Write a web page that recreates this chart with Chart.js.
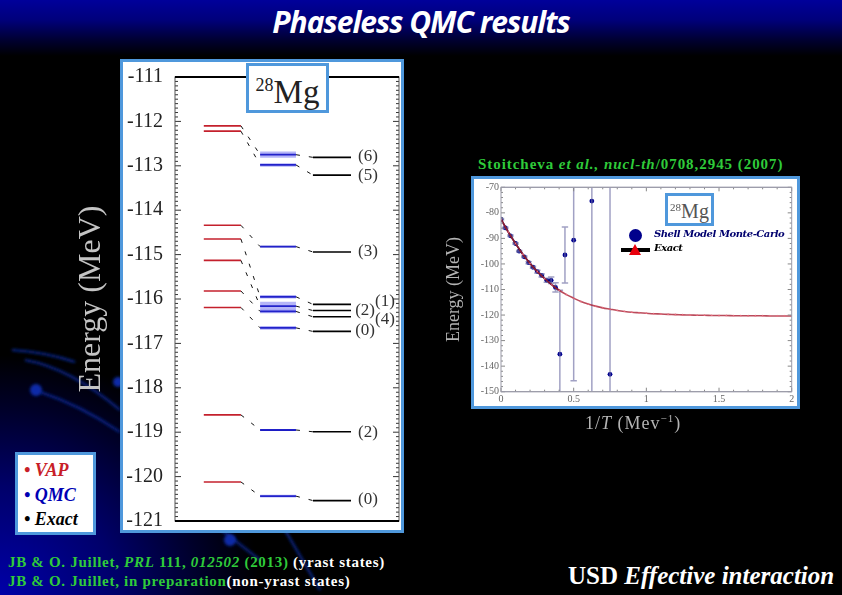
<!DOCTYPE html>
<html>
<head>
<meta charset="utf-8">
<script src="https://cdn.jsdelivr.net/npm/chart.js@4/dist/chart.umd.min.js"></script>
<style>
html, body { margin: 0; padding: 0; }
body {
    width: 842px; height: 595px; overflow: hidden; position: relative; background: #000;
}
.bg { position: absolute; left: 0; top: 0; width: 842px; height: 595px; }
.bg-head { position: absolute; left: 0; top: 0; width: 842px; height: 56px;
    background: linear-gradient(to bottom, #00009a 0%, #00007c 35%, #000030 72%, #000 100%); }
.bg-corner { position: absolute; left: 0; top: 300px; width: 300px; height: 295px;
    background: radial-gradient(ellipse 260px 240px at 0 100%, #0000a8 0%, #00006a 45%, #000028 78%, #000 100%); }
.panel { position: absolute; box-sizing: border-box; background: #fff; border: 3px solid #4f98dc; }
canvas { position: absolute; }
.txt { position: absolute; white-space: nowrap; }
.title { left: 0; top: 1px; width: 842px; text-align: center; color: #fff; font: italic 700 30px "Open Sans"; letter-spacing: -1px; }
.green { color: #2fcb3a; font: 700 15px "Liberation Serif"; letter-spacing: .7px; }
.white { color: #fff; }
.iso { font-family: "Liberation Serif"; color: #222; text-align: center; }
.iso sup { vertical-align: baseline; position: relative; }
</style>
</head>
<body>
<div class="bg-head"></div>
<div class="bg-corner"></div>
<svg class="bg" viewBox="0 0 842 595">
    <defs><filter id="soft"><feGaussianBlur stdDeviation="1.6"/></filter></defs>
    <g filter="url(#soft)" fill="none" stroke="#0a2a9c" stroke-width="2">
        <path d="M12 350 Q45 352 75 362"/>
        <path d="M25 360 Q70 368 120 410"/>
        <path d="M40 392 Q80 405 120 432"/>
        <path d="M215 525 L260 560"/>
        <path d="M285 530 L320 590"/>
    </g>
    <g filter="url(#soft)" fill="#0c2ca8">
        <circle cx="36" cy="390" r="6"/>
        <circle cx="118" cy="382" r="5"/>
        <circle cx="230" cy="540" r="6"/>
    </g>
</svg>

<div class="txt title">Phaseless QMC results</div>

<div class="panel" style="left:120px;top:59px;width:284px;height:474px"></div>
<canvas id="levels" width="332" height="492" style="left:70px;top:53px"></canvas>
<div class="panel iso" style="left:246px;top:63px;width:83px;height:50px;font-size:33px;line-height:52px">
    <sup style="font-size:18px;top:-12px">28</sup>Mg
</div>

<div class="panel" style="left:15px;top:452px;width:81px;height:83px"></div>
<div class="txt" style="left:24px;top:458px;font:italic 700 18px/24.5px 'Liberation Serif'">
    <span style="color:#c81e28">• VAP</span><br>
    <span style="color:#0000b4">• QMC</span><br>
    <span style="color:#000">• Exact</span>
</div>

<div class="txt green" style="left:478px;top:156px;letter-spacing:.95px">Stoitcheva <i>et al., nucl-th</i>/0708,2945 (2007)</div>
<div class="panel" style="left:471px;top:176px;width:329px;height:233px"></div>
<canvas id="smmc" width="358" height="260" style="left:440px;top:179px"></canvas>
<div class="panel iso" style="left:665px;top:193px;width:49px;height:33px;font-size:20px;line-height:31px;color:#555">
    <sup style="font-size:11px;top:-7px">28</sup>Mg
</div>
<div style="position:absolute;left:629px;top:229px;width:13px;height:13px;border-radius:50%;background:#00008c"></div>
<div style="position:absolute;left:621px;top:248px;width:29px;height:4px;background:#000"></div>
<div style="position:absolute;left:629px;top:244px;width:0;height:0;border-left:6px solid transparent;border-right:6px solid transparent;border-bottom:11px solid #e8000c"></div>
<div class="txt" style="left:654px;top:228px;font:italic 700 10px 'DejaVu Serif';letter-spacing:-.45px;color:#00006e">Shell Model Monte-Carlo</div>
<div class="txt" style="left:654px;top:242px;font:italic 700 10px 'DejaVu Serif';letter-spacing:-.45px;color:#000">Exact</div>
<div class="txt" style="left:585px;top:413px;font:18px 'Liberation Serif';letter-spacing:1px;color:#b4b4b4">1/<i>T</i> (Mev<sup style="font-size:11px;line-height:0">−1</sup>)</div>

<div class="txt green" style="left:8px;top:554px">JB &amp; O. Juillet, <i>PRL</i> 111, <i>012502</i> (2013) <span class="white">(yrast states)</span></div>
<div class="txt green" style="left:8px;top:573px">JB &amp; O. Juillet, in preparation<span class="white">(non-yrast states)</span></div>
<div class="txt white" style="left:568px;top:562px;font:700 25px 'Liberation Serif'">USD <i>Effective interaction</i></div>

<script>
// niveaux d'energie, 28Mg (MeV)
var vapLevels = [-112.10, -112.22, -114.34, -114.65, -115.13, -115.82, -116.19, -118.61, -120.12];
var qmcLevels = [-112.75, -112.98, -114.82, -115.95, -116.16, -116.28, -116.65, -118.95, -120.44];
var qmcErrors = [0.07, 0.04, 0.02, 0.04, 0.10, 0.04, 0.04, 0.02, 0.03];
var exactLevels = [-112.81, -113.21, -114.94, -116.12, -116.26, -116.40, -116.73, -118.99, -120.54];
var vapSpan = [0.9, 2.06];
var qmcSpan = [2.66, 3.78];
var exactSpan = [4.31, 5.5];
var tagTexts = ['(6)', '(5)', '(3)', '(1)', '(2)', '(4)', '(0)', '(2)', '(0)'];
var tagX = [6.03, 6.03, 6.03, 6.56, 5.94, 6.56, 5.94, 6.03, 6.03];
var tagE = [-112.79, -113.21, -114.94, -116.06, -116.26, -116.46, -116.71, -119.0, -120.52];

// SMMC, E(1/T)
var smmcX = [0, 0.03, 0.065, 0.1, 0.125, 0.16, 0.19, 0.22, 0.25, 0.28, 0.315, 0.345, 0.375, 0.405, 0.44, 0.5, 0.625, 0.75];
var smmcE = [-82.5, -85.9, -89, -92, -95, -97.2, -99.5, -101.3, -103, -104.5, -106.4, -106.4, -109.2, -135.3, -96.5, -90.7, -75.4, -143.2];
var smmcErr = [0.3, 0.3, 0.3, 0.3, 0.3, 0.3, 0.4, 0.4, 0.5, 0.6, 0.8, 1.3, 1.8, 25, 11, 55, 200, 100];
var exactX = [0, 0.05, 0.1, 0.15, 0.2, 0.25, 0.3, 0.35, 0.4, 0.45, 0.5, 0.55, 0.6, 0.65, 0.7, 0.75, 0.8, 0.85, 0.9, 0.95, 1, 1.05, 1.1, 1.15, 1.2, 1.25, 1.3, 1.35, 1.4, 1.45, 1.5, 1.55, 1.6, 1.65, 1.7, 1.75, 1.8, 1.85, 1.9, 1.95, 2];
var exactE = [-82.5, -87.5, -92, -96.2, -99.8, -103, -105.7, -108.2, -110.3, -112, -113.4, -114.7, -115.7, -116.5, -117.2, -117.7, -118.2, -118.6, -118.9, -119.1, -119.3, -119.5, -119.6, -119.75, -119.85, -119.95, -120, -120.05, -120.1, -120.15, -120.2, -120.2, -120.25, -120.25, -120.3, -120.3, -120.3, -120.35, -120.35, -120.35, -120.4];

/**
 * Cadre et graduations vers l'interieur
 */
var framePlugin = {
    id: 'frame',
    afterDatasetsDraw: function(chart, args, opts) {
        var ctx = chart.ctx, a = chart.chartArea;
        ctx.save();
        ctx.lineWidth = 1;
        ctx.strokeStyle = opts.tickColor;
        chart.scales.y.ticks.forEach(function(t) {
            var y = chart.scales.y.getPixelForValue(t.value);
            var len = Math.abs(t.value / opts.yMajor - Math.round(t.value / opts.yMajor)) < 1e-6 ? opts.major : opts.minor;
            ctx.beginPath();
            ctx.moveTo(a.left, y); ctx.lineTo(a.left + len, y);
            ctx.moveTo(a.right, y); ctx.lineTo(a.right - len, y);
            ctx.stroke();
        });
        if (opts.xMajor) {
            chart.scales.x.ticks.forEach(function(t) {
                var x = chart.scales.x.getPixelForValue(t.value);
                var len = Math.abs(t.value / opts.xMajor - Math.round(t.value / opts.xMajor)) < 1e-6 ? opts.major : opts.minor;
                ctx.beginPath();
                ctx.moveTo(x, a.bottom); ctx.lineTo(x, a.bottom - len);
                ctx.moveTo(x, a.top); ctx.lineTo(x, a.top + len);
                ctx.stroke();
            });
        }
        ctx.strokeStyle = opts.sideColor;
        ctx.strokeRect(a.left, a.top, a.right - a.left, a.bottom - a.top);
        ctx.strokeStyle = opts.edgeColor;
        ctx.lineWidth = opts.edgeWidth;
        ctx.beginPath();
        ctx.moveTo(a.left, a.top); ctx.lineTo(a.right, a.top);
        ctx.moveTo(a.left, a.bottom); ctx.lineTo(a.right, a.bottom);
        ctx.stroke();
        ctx.restore();
    }
};

// etiquettes (J) a droite des niveaux exacts
var tagPlugin = {
    id: 'tags',
    afterDatasetsDraw: function(chart) {
        var ctx = chart.ctx;
        ctx.save();
        ctx.font = '17px "Liberation Serif"';
        ctx.fillStyle = '#333';
        ctx.textAlign = 'center';
        ctx.textBaseline = 'middle';
        tagTexts.forEach(function(t, i) {
            ctx.fillText(t, chart.scales.x.getPixelForValue(tagX[i]), chart.scales.y.getPixelForValue(tagE[i]));
        });
        ctx.restore();
    }
};

function segment(span, e, color, width) {
    return {
        data: [{x: span[0], y: e}, {x: span[1], y: e}],
        borderColor: color,
        borderWidth: width,
        pointRadius: 0
    };
}

function connector(from, to, e0, e1) {
    return {
        data: [{x: from, y: e0}, {x: to, y: e1}],
        borderColor: '#111',
        borderWidth: 1,
        borderDash: [4, 9],
        pointRadius: 0
    };
}

function levelDatasets() {
    var sets = [];
    qmcLevels.forEach(function(e, i) {
        sets.push({
            data: [{x: qmcSpan[0], y: e + qmcErrors[i]}, {x: qmcSpan[1], y: e + qmcErrors[i]}],
            borderWidth: 0,
            pointRadius: 0,
            fill: {value: e - qmcErrors[i]},
            backgroundColor: 'rgba(70, 70, 235, 0.4)'
        });
    });
    vapLevels.forEach(function(e, i) {
        sets.push(connector(vapSpan[1], qmcSpan[0], e, qmcLevels[i]));
        sets.push(connector(qmcSpan[1], exactSpan[0], qmcLevels[i], exactLevels[i]));
        sets.push(segment(vapSpan, e, '#c4202c', 1.6));
        sets.push(segment(qmcSpan, qmcLevels[i], '#0a0ab4', 1.8));
        sets.push(segment(exactSpan, exactLevels[i], '#000', 1.6));
    });
    return sets;
}

function errorBars() {
    var pts = [], cap = 0.022;
    smmcX.forEach(function(x, i) {
        var hi = smmcE[i] + smmcErr[i], lo = smmcE[i] - smmcErr[i];
        pts.push({x: x - cap, y: hi}, {x: x + cap, y: hi}, {x: x, y: null});
        pts.push({x: x, y: hi}, {x: x, y: lo}, {x: x, y: null});
        pts.push({x: x - cap, y: lo}, {x: x + cap, y: lo}, {x: x, y: null});
    });
    return pts;
}

function pairs(xs, ys) {
    return xs.map(function(x, i) { return {x: x, y: ys[i]}; });
}

Chart.defaults.animation = false;

new Chart(document.getElementById('levels'), {
    type: 'line',
    data: {datasets: levelDatasets()},
    plugins: [framePlugin, tagPlugin],
    options: {
        responsive: false,
        layout: {padding: {top: 0, right: 3, bottom: 0, left: 0}},
        plugins: {
            legend: {display: false},
            tooltip: {enabled: false},
            frame: {tickColor: '#333', sideColor: '#555', edgeColor: '#000', edgeWidth: 2, major: 6, minor: 3, yMajor: 1}
        },
        scales: {
            x: {type: 'linear', min: 0, max: 7, display: false},
            y: {
                min: -121,
                max: -111,
                afterFit: function(s) { s.width = 105; },
                grid: {display: false, drawTicks: false},
                border: {display: false},
                title: {
                    display: true,
                    text: 'Energy (MeV)',
                    color: '#c4c4c4',
                    padding: {top: 2, bottom: 0},
                    font: {family: 'Liberation Serif', size: 32}
                },
                ticks: {
                    stepSize: 0.1,
                    autoSkip: false,
                    padding: 12,
                    color: '#222',
                    font: {family: 'Liberation Serif', size: 20},
                    callback: function(v) {
                        return Math.abs(v - Math.round(v)) < 1e-6 ? String(Math.round(v)) : '';
                    }
                }
            }
        }
    }
});

new Chart(document.getElementById('smmc'), {
    type: 'line',
    data: {
        datasets: [
            {
                data: pairs(exactX, exactE),
                borderColor: 'rgba(170, 30, 50, 0.8)',
                borderWidth: 1.6,
                tension: 0.3,
                pointRadius: 1.3,
                pointStyle: 'triangle',
                pointBackgroundColor: '#e87080',
                pointBorderWidth: 0
            },
            {
                data: pairs(exactX.slice(0, 9), exactE.slice(0, 9)),
                borderColor: '#10103c',
                borderWidth: 1.6,
                tension: 0.3,
                pointRadius: 0
            },
            {
                data: errorBars(),
                borderColor: 'rgba(110, 110, 165, 0.65)',
                borderWidth: 1.5,
                pointRadius: 0,
                spanGaps: false
            },
            {
                data: pairs(smmcX, smmcE),
                showLine: false,
                pointRadius: 2.4,
                pointBackgroundColor: '#000090',
                pointBorderWidth: 0
            }
        ]
    },
    plugins: [framePlugin],
    options: {
        responsive: false,
        layout: {padding: {top: 8.3, right: 6.3, bottom: 0, left: 0}},
        plugins: {
            legend: {display: false},
            tooltip: {enabled: false},
            frame: {tickColor: '#888', sideColor: '#9a9aa8', edgeColor: '#9a9aa8', edgeWidth: 1, major: 4, minor: 2, yMajor: 10, xMajor: 0.5}
        },
        scales: {
            x: {
                type: 'linear',
                min: 0,
                max: 2,
                afterFit: function(s) { s.height = 47.3; },
                grid: {display: false, drawTicks: false},
                border: {display: false},
                ticks: {
                    stepSize: 0.1,
                    autoSkip: false,
                    maxRotation: 0,
                    padding: 2,
                    color: '#666',
                    font: {family: 'Liberation Serif', size: 10},
                    callback: function(v) {
                        return Math.abs(v * 2 - Math.round(v * 2)) < 1e-6 ? String(Math.round(v * 2) / 2) : '';
                    }
                }
            },
            y: {
                min: -150,
                max: -70,
                afterFit: function(s) { s.width = 61; },
                grid: {display: false, drawTicks: false},
                border: {display: false},
                title: {
                    display: true,
                    text: 'Energy (MeV)',
                    color: '#b4b4b4',
                    padding: {top: 3, bottom: 0},
                    font: {family: 'Liberation Serif', size: 18}
                },
                ticks: {
                    stepSize: 2,
                    autoSkip: false,
                    padding: 2,
                    color: '#666',
                    font: {family: 'Liberation Serif', size: 10},
                    callback: function(v) {
                        return Math.abs(v / 10 - Math.round(v / 10)) < 1e-6 ? String(Math.round(v)) : '';
                    }
                }
            }
        }
    }
});
</script>
</body>
</html>
